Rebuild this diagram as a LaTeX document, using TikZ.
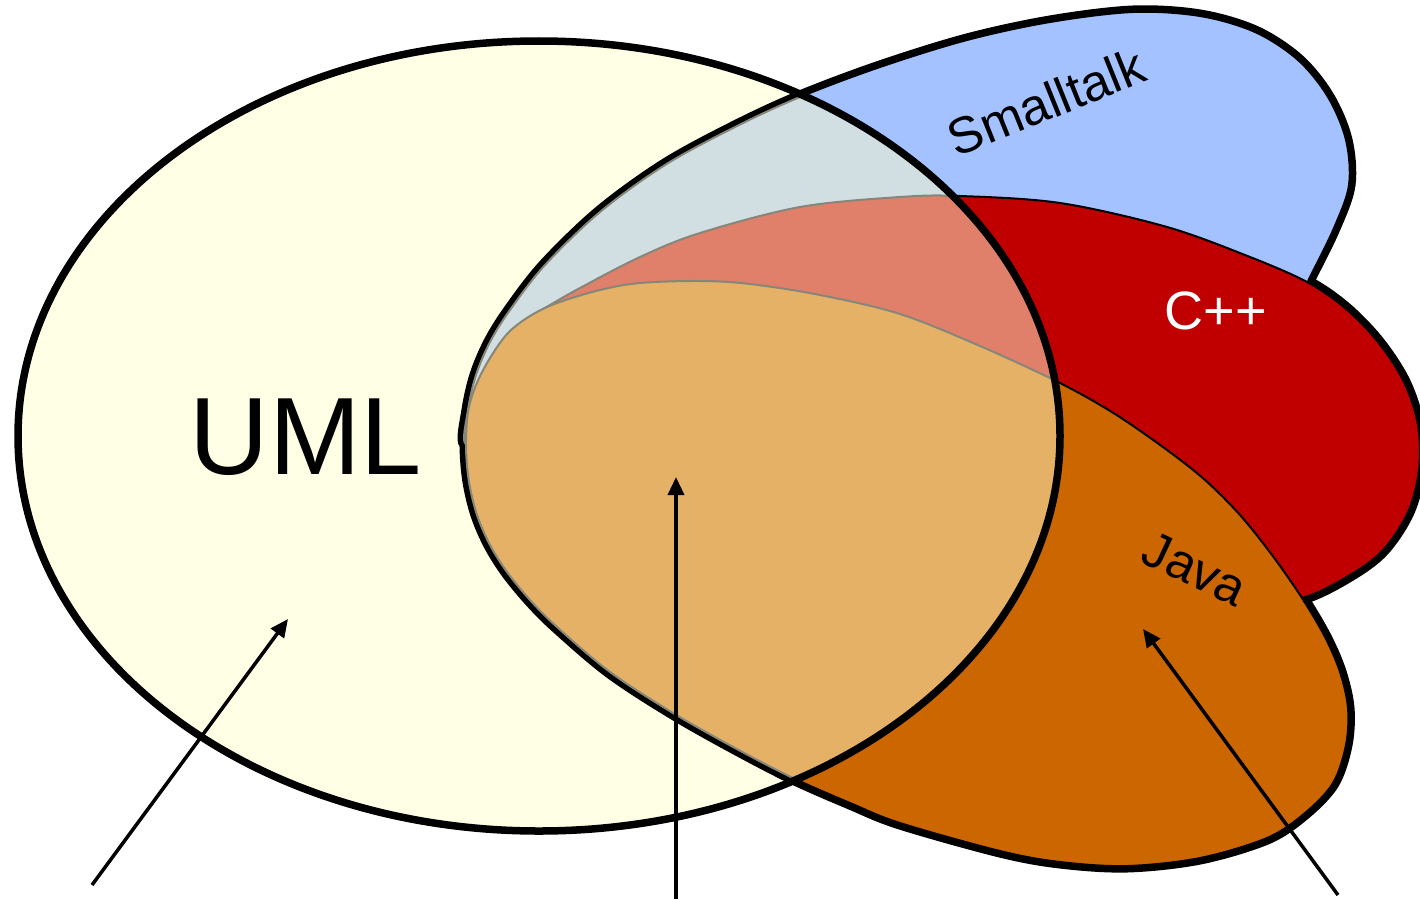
\documentclass[tikz,border=0pt]{standalone}
\usepackage{fontspec}
\setmainfont{Liberation Sans}
\usetikzlibrary{arrows.meta}
\definecolor{umlyellow}{HTML}{FFFFE6}
\definecolor{stblue}{HTML}{A3C2FF}
\definecolor{cppred}{HTML}{C00000}
\definecolor{javaor}{HTML}{CC6600}
\definecolor{stmix}{HTML}{D1DFE2}
\definecolor{cppmix}{HTML}{E0806A}
\definecolor{javamix}{HTML}{E5B166}
\definecolor{mixline}{HTML}{86867A}
\begin{document}
\begin{tikzpicture}[x=1pt,y=-1pt,
  stpetal/.style={insert path={plot[smooth cycle,tension=0.55] coordinates {
    (466,444) (468,410) (476,375) (490,342) (510,310) (545,265) (600,212) (665,165) (735,127)
    (800,97) (880,67) (967,40) (1050,22) (1133,12) (1200,16) (1255,32) (1298,60) (1328,97)
    (1346,140) (1349,185) (1334,228) (1310,277) (1285,325) (1200,322) (1100,305) (1000,295)
    (900,296) (800,305) (700,325) (610,355) (545,390) (500,420)}}},
  cpppetal/.style={insert path={plot[smooth cycle,tension=0.55] coordinates {
    (470,432) (474,400) (484,372) (500,345) (522,322) (550,305) (580,288) (640,257) (700,233)
    (800,207) (900,197) (960,196) (1060,203) (1167,227) (1250,257) (1307,282) (1345,308)
    (1378,342) (1404,382) (1418,425) (1419,470) (1408,512) (1383,550) (1350,575) (1305,597)
    (1260,600) (1180,555) (1080,505) (950,460) (800,440) (650,440) (530,445)}}},
  javapetal/.style={insert path={plot[smooth cycle,tension=0.55] coordinates {
    (466,447) (468,412) (476,385) (490,358) (508,333) (530,316) (557,303) (600,290) (640,283)
    (700,281) (750,284) (820,295) (900,314) (980,346) (1060,383) (1115,414) (1167,450)
    (1205,480) (1240,515) (1272,555) (1302,598) (1325,637) (1340,672) (1348,708) (1346,745)
    (1333,783) (1305,813) (1267,838) (1200,858) (1127,866) (1060,862) (1000,851) (900,823)
    (850,803) (793,778) (735,748) (673,713) (610,672) (557,627) (530,600) (507,572) (490,545)
    (477,515) (469,482)}}},
  umlshape/.style={insert path={(539,436) ellipse [x radius=521, y radius=395]}},
  outerline/.style={draw=black,line width=13pt,line join=round},
  thinline/.style={draw=black,line width=2pt},
  mixedline/.style={draw=mixline,line width=2pt},
  pointer/.style={draw=black,line width=3.5pt,-{Triangle[length=18pt,width=16pt]}},
  lbl/.style={font=\fontsize{#1}{#1}\selectfont,inner sep=0pt,anchor=center}
]
\useasboundingbox (0,0) rectangle (1420,899);
\fill[white] (0,0) rectangle (1420,899);
% UML ellipse fill
\path[fill=umlyellow, umlshape];
% union outline of the petals
\path[outerline, stpetal];
\path[outerline, cpppetal];
\path[outerline, javapetal];
% petal fills (outside UML)
\path[fill=stblue, thinline, stpetal];
\path[fill=cppred, thinline, cpppetal];
\path[fill=javaor, thinline, javapetal];
% blended parts inside UML
\begin{scope}
  \clip (539,436) ellipse [x radius=521, y radius=395];
  \path[fill=stmix, mixedline, stpetal];
  \path[fill=cppmix, mixedline, cpppetal];
  \path[fill=javamix, mixedline, javapetal];
\end{scope}
% UML outline
\path[draw=black, line width=7.5pt, umlshape];
% labels
\node[lbl=110] (uml) at (306,437) {UML};
\node[lbl=51, rotate=22] (smalltalk) at (1046,102) {Smalltalk};
\node[lbl=54, text=white] (cpp) at (1216,311) {C++};
\node[lbl=51, rotate=-25] (java) at (1195,569) {Java};
% arrows
\coordinate (a1s) at (92,885);
\coordinate (a1e) at (288,619);
\coordinate (a2s) at (676,899);
\coordinate (a2e) at (676,477);
\coordinate (a3s) at (1338,895);
\coordinate (a3e) at (1143,629);
\draw[pointer] (a1s) -- (a1e);
\draw[pointer] (a2s) -- (a2e);
\draw[pointer] (a3s) -- (a3e);
\end{tikzpicture}
\end{document}
